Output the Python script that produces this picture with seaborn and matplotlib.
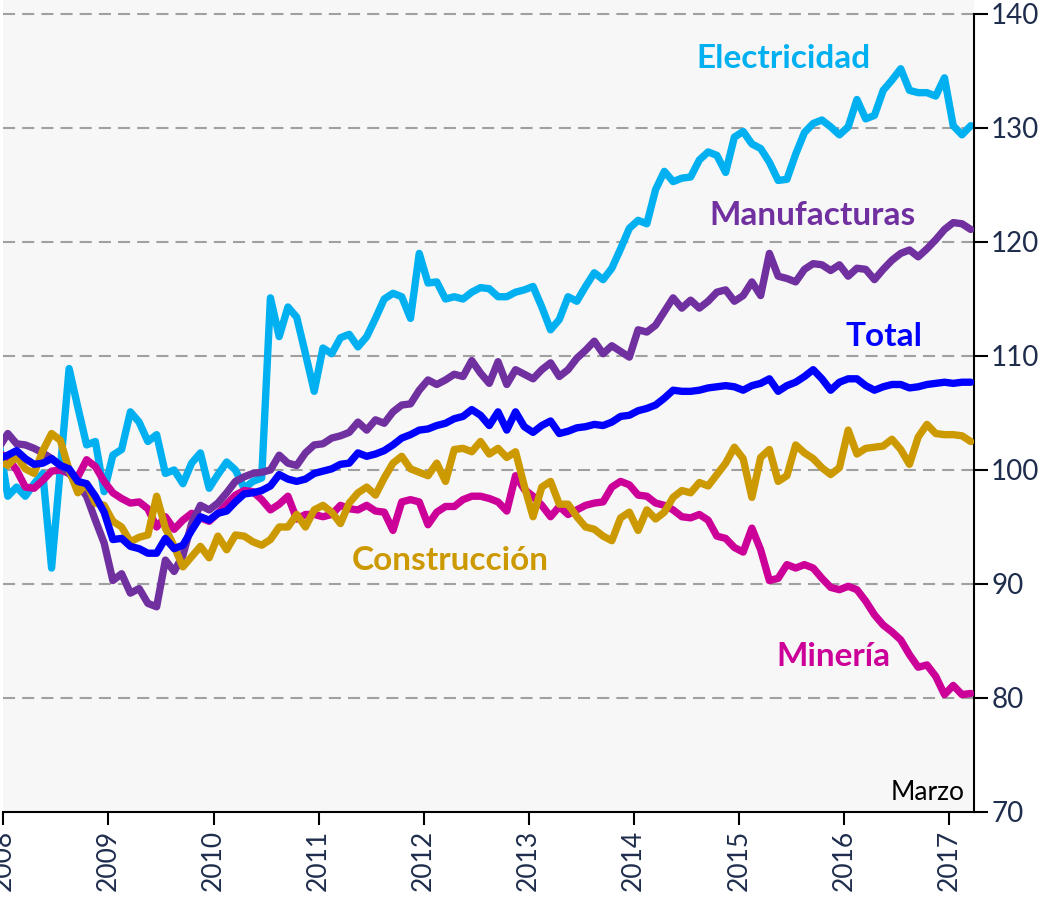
import numpy as np
import pandas as pd
import matplotlib
matplotlib.use("Agg")
import matplotlib.pyplot as plt
import seaborn as sns

# Monthly index values, Dec 2007 (clipped at the left edge) to Mar 2017
years = [2008, 2009, 2010, 2011, 2012, 2013, 2014, 2015, 2016, 2017]

electricidad = [
    102.4, 97.7, 98.5, 97.7, 98.8, 99.7, 91.4, 100.1, 108.9, 105.5, 102.2, 102.5, 98.1,
    101.3, 101.8, 105.1, 104.2, 102.5, 103.1, 99.7, 100.0, 98.8, 100.6, 101.5, 98.4,
    99.6, 100.7, 100.0, 98.4, 99.0, 99.3, 115.1, 111.7, 114.3, 113.4, 110.2, 106.9,
    110.7, 110.2, 111.6, 111.9, 110.8, 111.7, 113.3, 115.0, 115.5, 115.2, 113.3, 119.0,
    116.4, 116.5, 115.0, 115.2, 115.0, 115.6, 116.0, 115.9, 115.2, 115.2, 115.6, 115.8,
    116.1, 114.3, 112.3, 113.2, 115.2, 114.8, 116.1, 117.3, 116.7, 117.7, 119.4, 121.2,
    121.9, 121.6, 124.6, 126.2, 125.3, 125.6, 125.7, 127.2, 127.9, 127.6, 126.1, 129.2,
    129.7, 128.6, 128.2, 127.0, 125.4, 125.5, 127.7, 129.6, 130.4, 130.7, 130.1, 129.4,
    130.1, 132.5, 130.8, 131.1, 133.3, 134.2, 135.2, 133.3, 133.1, 133.1, 132.8, 134.4,
    130.2, 129.4, 130.2,
]

manufacturas = [
    102.0, 103.2, 102.3, 102.2, 101.9, 101.5, 101.0, 100.4, 99.7, 98.8, 97.7, 95.6, 93.6,
    90.3, 90.9, 89.2, 89.6, 88.3, 88.0, 92.1, 91.1, 92.5, 95.3, 96.9, 96.5,
    97.1, 98.0, 99.0, 99.4, 99.7, 99.8, 100.0, 101.3, 100.6, 100.4, 101.5, 102.2,
    102.3, 102.8, 103.0, 103.3, 104.2, 103.5, 104.4, 104.1, 105.1, 105.7, 105.8, 107.0,
    107.9, 107.5, 107.9, 108.4, 108.2, 109.6, 108.5, 107.6, 109.5, 107.5, 108.8, 108.4,
    108.0, 108.8, 109.4, 108.2, 108.8, 109.8, 110.5, 111.3, 110.2, 110.9, 110.4, 109.9,
    112.3, 112.1, 112.7, 113.9, 115.1, 114.2, 114.9, 114.2, 114.8, 115.6, 115.8, 114.8,
    115.3, 116.5, 115.3, 119.0, 117.0, 116.8, 116.5, 117.6, 118.1, 118.0, 117.5, 118.0,
    117.0, 117.7, 117.6, 116.7, 117.6, 118.4, 119.0, 119.3, 118.7, 119.4, 120.2, 121.1,
    121.7, 121.6, 121.1,
]

total = [
    101.0, 101.3, 101.7, 101.0, 100.5, 100.6, 101.0, 100.4, 100.1, 99.0, 98.8, 97.7, 96.3,
    93.9, 94.0, 93.3, 93.1, 92.7, 92.7, 94.0, 93.1, 93.4, 94.7, 95.9, 95.6,
    96.2, 96.4, 97.2, 97.9, 98.0, 98.2, 98.6, 99.6, 99.2, 99.0, 99.2, 99.7,
    99.9, 100.1, 100.5, 100.6, 101.5, 101.2, 101.4, 101.7, 102.2, 102.8, 103.1, 103.5,
    103.6, 103.9, 104.1, 104.5, 104.7, 105.3, 104.8, 103.9, 105.1, 103.5, 105.1, 103.8,
    103.3, 103.9, 104.3, 103.2, 103.4, 103.7, 103.8, 104.0, 103.9, 104.2, 104.7, 104.8,
    105.2, 105.4, 105.7, 106.3, 107.0, 106.9, 106.9, 107.0, 107.2, 107.3, 107.4, 107.3,
    107.0, 107.4, 107.6, 108.0, 106.9, 107.4, 107.7, 108.2, 108.8, 108.0, 107.0, 107.7,
    108.0, 108.0, 107.4, 107.0, 107.3, 107.5, 107.5, 107.2, 107.3, 107.5, 107.6, 107.7,
    107.6, 107.7, 107.7,
]

construccion = [
    100.8, 100.4, 101.2, 100.1, 99.7, 101.7, 103.2, 102.6, 100.0, 98.0, 98.8, 97.1, 96.9,
    95.5, 95.0, 93.7, 94.1, 94.3, 97.7, 94.9, 93.3, 91.5, 92.4, 93.3, 92.3,
    94.2, 93.0, 94.3, 94.2, 93.7, 93.4, 93.9, 95.0, 95.0, 96.1, 95.0, 96.5,
    96.9, 96.3, 95.3, 97.1, 98.0, 98.5, 97.8, 99.3, 100.6, 101.2, 100.1, 99.8,
    99.5, 100.6, 99.0, 101.8, 101.9, 101.6, 102.5, 101.4, 101.9, 101.1, 101.6, 98.6,
    95.9, 98.5, 99.0, 97.0, 97.0, 95.9, 95.0, 94.8, 94.2, 93.8, 95.8, 96.3,
    94.7, 96.5, 95.7, 96.3, 97.6, 98.2, 98.0, 98.9, 98.6, 99.6, 100.6, 102.0,
    101.0, 97.6, 101.1, 101.8, 99.0, 99.5, 102.2, 101.5, 101.0, 100.2, 99.6, 100.2,
    103.5, 101.4, 101.9, 102.0, 102.1, 102.7, 101.8, 100.5, 102.9, 104.0, 103.2, 103.1,
    103.1, 103.0, 102.5,
]

mineria = [
    101.5, 101.0, 100.0, 98.5, 98.4, 99.1, 99.9, 100.0, 99.7, 99.4, 100.9, 100.3, 99.0,
    98.0, 97.5, 97.1, 97.2, 96.6, 95.0, 95.9, 94.8, 95.6, 96.2, 95.8, 95.5,
    96.2, 97.0, 97.8, 98.2, 98.1, 97.4, 96.5, 97.0, 97.7, 95.7, 96.1, 96.1,
    95.9, 96.1, 96.9, 96.6, 96.5, 96.9, 96.4, 96.3, 94.7, 97.2, 97.4, 97.2,
    95.2, 96.3, 96.8, 96.8, 97.4, 97.7, 97.7, 97.5, 97.2, 96.4, 99.5, 98.3,
    97.7, 96.9, 95.9, 96.8, 96.1, 96.5, 96.9, 97.1, 97.2, 98.5, 99.0, 98.7,
    97.8, 97.7, 97.1, 96.9, 96.5, 95.9, 95.8, 96.1, 95.6, 94.2, 94.0, 93.2,
    92.8, 94.9, 93.0, 90.3, 90.5, 91.7, 91.4, 91.7, 91.4, 90.5, 89.7, 89.5,
    89.8, 89.5, 88.5, 87.3, 86.4, 85.8, 85.1, 83.8, 82.7, 82.9, 81.9, 80.3,
    81.1, 80.3, 80.4,
]

series = [
    ("Electricidad", electricidad, "#00b0f0", 2),
    ("Minería", mineria, "#cc0099", 3),
    ("Manufacturas", manufacturas, "#7030a0", 4),
    ("Construcción", construccion, "#cc9900", 5),
    ("Total", total, "#0000ff", 6),
]

month = np.arange(-1, len(total) - 1)  # 0 = January 2008
df = pd.DataFrame({"mes": month})
for name, vals, _, _ in series:
    df[name] = vals

sns.set_theme(style="white")
plt.rcParams["font.family"] = ["Lato", "DejaVu Sans"]

W, H = 1056, 899
fig = plt.figure(figsize=(W / 100, H / 100), dpi=100)
fig.patch.set_facecolor("white")
ax = fig.add_axes([3 / W, 87 / H, 971.5 / W, 812 / H])
ax.set_facecolor("#f7f7f7")

for name, vals, color, z in series:
    sns.lineplot(data=df, x="mes", y=name, color=color, linewidth=5.3, ax=ax,
                 zorder=z, legend=False, solid_joinstyle="round", solid_capstyle="round")

ax.set_xlim(-0.55, 110.43)
ax.set_ylim(70, 70 + 812 / 11.4)

ax.grid(False)
ax.set_yticks(np.arange(70, 141, 10))
for v in range(80, 141, 10):
    ax.axhline(v, color="#a0a0a0", linewidth=1.5, linestyle=(0, (5.8, 3.4)), zorder=1)

ax.set_xticks([12 * k - 0.5 for k in range(len(years))])
ax.set_xticklabels([str(y) for y in years], rotation=90)

ax.yaxis.tick_right()
ax.tick_params(axis="y", which="major", direction="out", length=10, width=1.5,
               color="black", labelsize=20, labelcolor="#1f2d4d", pad=2,
               right=True, left=False, labelright=True, labelleft=False)
ax.tick_params(axis="x", which="major", direction="out", length=9, width=1.5,
               color="black", labelsize=19, labelcolor="#1f2d4d", pad=4, bottom=True)

for s in ["left", "top"]:
    ax.spines[s].set_visible(False)
ax.spines["right"].set_color("black")
ax.spines["right"].set_linewidth(1.5)
ax.spines["right"].set_bounds(70, 140)
ax.spines["bottom"].set_color("black")
ax.spines["bottom"].set_linewidth(1.5)
ax.set_xlabel("")
ax.set_ylabel("")

label_pos = {
    "Electricidad": (88.6, 136.1),
    "Manufacturas": (91.9, 122.3),
    "Total": (100.1, 111.7),
    "Construcción": (50.5, 92.1),
    "Minería": (94.3, 83.6),
}
for name, vals, color, z in series:
    x, y = label_pos[name]
    ax.text(x, y, name, color=color, fontsize=24, fontweight="bold",
            ha="center", va="center", zorder=10)

ax.text(109.3, 71.75, "Marzo", color="black", fontsize=19, ha="right", va="center")

fig.savefig("out.png", dpi=100, facecolor="white")
